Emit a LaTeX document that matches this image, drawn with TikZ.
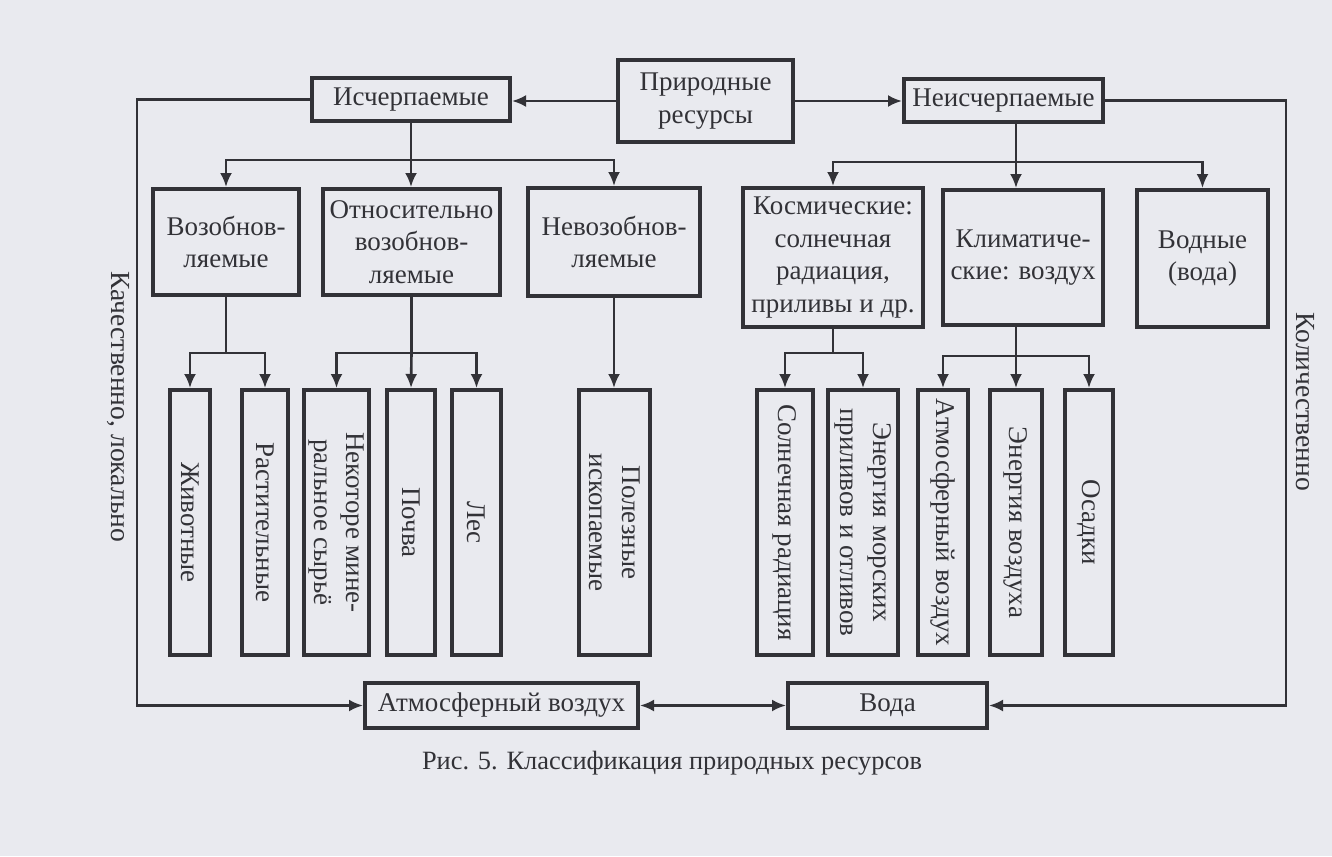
\documentclass[tikz,border=0pt]{standalone}
\usepackage{fontspec}
\setmainfont{Liberation Serif}
\usetikzlibrary{arrows.meta,calc}
\definecolor{ink}{RGB}{50,50,55}
\definecolor{paper}{RGB}{233,234,239}
\begin{document}
\begin{tikzpicture}[x=0.5pt,y=-0.5pt,
  box/.style={draw=ink, line width=2pt, text=ink, inner sep=0pt, align=center, font=\fontsize{13.5}{16.2}\selectfont},
  vbox/.style={box, rotate=-90, minimum width=132.5pt},
  conn/.style={draw=ink, line width=1.3pt},
  arr/.style={conn, -{Latex[length=7pt,width=6pt]}},
  arrb/.style={conn, {Latex[length=7pt,width=6pt]}-{Latex[length=7pt,width=6pt]}},
  lbl/.style={text=ink, font=\fontsize{13.8}{16.5}\selectfont}]
\fill[paper] (0,0) rectangle (1332,856);
\useasboundingbox (0,0) rectangle (1332,856);

% top level
\node[box, minimum width=87.5pt, minimum height=41pt] (nat) at (705.5,101) {Природные\\ресурсы};
\node[box, minimum width=99pt, minimum height=21.5pt] (exh) at (411,99.5) {Исчерпаемые};
\node[box, minimum width=99.5pt, minimum height=21.5pt] (inex) at (1003.5,100.5) {Неисчерпаемые};

% second level
\node[box, minimum width=73pt, minimum height=53pt] (ren) at (226,242) {Возобнов-\\ляемые};
\node[box, minimum width=88.5pt, minimum height=53pt] (rel) at (411.5,242) {Относительно\\возобнов-\\ляемые};
\node[box, minimum width=86pt, minimum height=54pt] (nonren) at (614,242) {Невозобнов-\\ляемые};
\node[box, minimum width=90pt, minimum height=69.5pt] (cosm) at (833,257.5) {Космические:\\солнечная\\радиация,\\приливы и др.};
\node[box, minimum width=80pt, minimum height=67.5pt] (clim) at (1023,257.5) {Климатиче-\\ские: воздух};
\node[box, minimum width=65.5pt, minimum height=68.5pt] (water) at (1202.5,258.5) {Водные\\(вода)};

% third level (vertical)
\node[vbox, minimum height=20pt] (anim) at (190,522.5) {Животные};
\node[vbox, minimum height=23pt] (plant) at (265,522.5) {Растительные};
\node[vbox, minimum height=32.5pt] (mineral) at (336.5,522.5) {Некоторе мине-\\ральное сырьё};
\node[vbox, minimum height=24pt] (soil) at (411,522.5) {Почва};
\node[vbox, minimum height=24.5pt] (forest) at (476.5,522.5) {Лес};
\node[vbox, minimum height=35.5pt] (fossil) at (614.5,522.5) {Полезные\\ископаемые};
\node[vbox, minimum height=28pt] (solar) at (785,522.5) {Солнечная радиация};
\node[vbox, minimum height=35pt] (tidal) at (863,522.5) {Энергия морских\\приливов и отливов};
\node[vbox, minimum height=25pt] (atm) at (943,522.5) {Атмосферный воздух};
\node[vbox, minimum height=26pt] (wind) at (1016,522.5) {Энергия воздуха};
\node[vbox, minimum height=24pt] (precip) at (1089,522.5) {Осадки};

% bottom
\node[box, minimum width=136.5pt, minimum height=22.5pt] (air) at (501.5,705.5) {Атмосферный воздух};
\node[box, minimum width=99.5pt, minimum height=22.5pt] (wat) at (887.5,705.5) {Вода};

% side labels and caption
\node[lbl, rotate=-90] (qual) at (118,407) {Качественно, локально};
\node[lbl, rotate=-90] (quant) at (1305,402) {Количественно};
\node[lbl, font=\fontsize{13.2}{16}\selectfont] (cap) at (672,763) {Рис. 5. Классификация природных ресурсов};

% bus coordinates
\coordinate (busL) at (0,160);
\coordinate (busR) at (0,162);
\coordinate (busRen) at (0,353);
\coordinate (busRel) at (0,353);
\coordinate (busCos) at (0,353);
\coordinate (busCli) at (0,356);
\coordinate (xL) at (137,0);
\coordinate (xR) at (1286,0);

% top arrows
\draw[arr] (nat.west) -- (exh.east |- nat.west);
\draw[arr] (nat.east) -- (inex.west |- nat.east);

% exhaustible branch
\draw[arr] (exh.south) -- (exh.south |- rel.north);
\draw[arr] (exh.south |- busL) -| (ren.north);
\draw[arr] (exh.south |- busL) -| (nonren.north);

% inexhaustible branch
\draw[conn] (wind |- inex.south) -- (wind |- busR);
\draw[arr] (wind |- busR) -- (wind |- clim.north);
\draw[arr] (wind |- busR) -| (cosm.north);
\draw[arr] (wind |- busR) -| (water.north);

% third level
\draw[conn] (ren.south) -- (ren.south |- busRen);
\draw[arr] (ren.south |- busRen) -| (anim.west);
\draw[arr] (ren.south |- busRen) -| (plant.west);

\draw[conn] (rel.south) -- (rel.south |- busRel);
\draw[arr] (rel.south |- busRel) -- (soil.west);
\draw[arr] (rel.south |- busRel) -| (mineral.west);
\draw[arr] (rel.south |- busRel) -| (forest.west);

\draw[arr] (nonren.south) -- (nonren.south |- fossil.west);

\draw[conn] (cosm.south) -- (cosm.south |- busCos);
\draw[arr] (cosm.south |- busCos) -| (solar.west);
\draw[arr] (cosm.south |- busCos) -| (tidal.west);

\draw[conn] (wind |- clim.south) -- (wind |- busCli);
\draw[arr] (wind |- busCli) -- (wind.west);
\draw[arr] (wind |- busCli) -| (atm.west);
\draw[arr] (wind |- busCli) -| (precip.west);

% side loops
\draw[arr] (exh.west) -| (xL |- air.west) -- (air.west);
\draw[arr] (inex.east) -| (xR |- wat.east) -- (wat.east);
\draw[arrb] (air.east) -- (wat.west);
\end{tikzpicture}
\end{document}
